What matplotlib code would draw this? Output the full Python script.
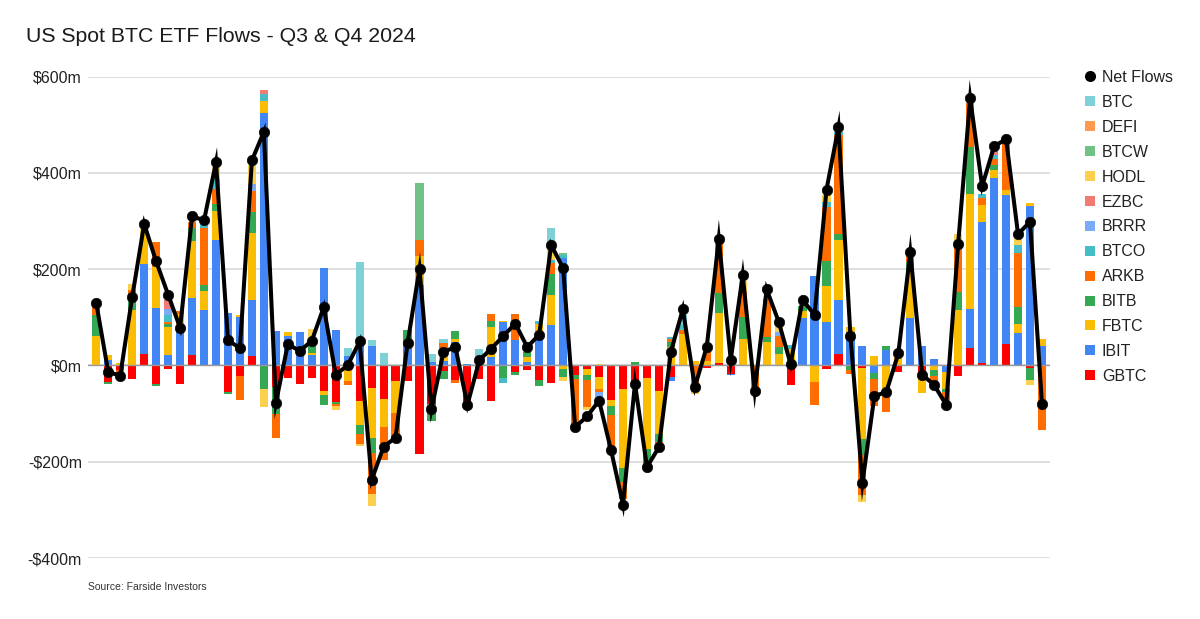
import matplotlib
matplotlib.use("Agg")
import matplotlib.pyplot as plt
from matplotlib.lines import Line2D
import numpy as np

plt.rcParams['font.family'] = ['Liberation Sans', 'DejaVu Sans']

GBTC = [0,-35,-10,-28,24,-39,-8,-38,21,0,
        0,-55,-23,19,0,-45,-26,-39,-26,-54,
        -75,0,-73,-47,-69,-33,-33,-184,-80,-12,
        -30,-82,-28,-73,0,-14,-10,-30,-37,0,
        -19,-8,-24,-71,-50,-38,-26,-54,-24,0,
        0,-6,6,-17,0,0,0,0,-41,0,
        0,-8,23,0,-5,0,0,-14,0,-14,
        0,0,-22,37,5,0,44,0,-5,0]
IBIT = [0,12,0,0,187,120,21,76,119,116,
        260,109,100,116,525,71,62,69,22,202,
        74,19,45,40,0,0,52,166,8,10,
        48,3,0,17,90,53,7,65,83,224,
        0,0,0,0,0,0,0,0,-8,0,
        0,0,0,-3,0,0,0,0,0,98,
        185,90,112,70,40,-16,33,0,98,40,
        14,-14,0,80,293,390,309,68,331,40]
FBTC = [62,10,5,116,63,84,59,31,118,38,
        60,0,5,140,24,0,7,0,4,-8,
        0,-33,-50,-104,-59,-66,0,62,0,26,
        7,0,0,62,3,0,10,20,64,-8,
        0,-11,-24,-14,-164,0,-147,-88,38,66,
        10,10,102,12,55,0,48,24,35,16,
        -35,75,125,10,-147,19,-66,25,99,-43,
        -10,-35,115,239,35,15,12,19,6,14]
BITB = [42,-4,0,19,0,-4,7,0,28,13,
        16,-5,0,43,-48,-55,0,0,15,-20,
        -5,0,-19,-31,0,0,22,0,-36,-17,
        17,0,0,14,-26,-5,10,-12,42,-17,
        -9,-12,0,-17,-28,8,-35,-17,10,0,
        0,0,42,0,45,0,12,14,0,10,
        0,51,12,-10,-35,-12,7,0,17,0,
        -12,-7,37,98,0,12,0,35,-26,0]
ARKB = [20,0,-16,21,0,52,3,7,12,118,
        30,0,-48,45,0,-50,0,0,0,0,
        -5,-7,-21,-86,-68,-60,0,33,0,10,
        -7,0,0,14,0,53,0,0,24,0,
        -100,-55,-8,-67,-35,0,0,-14,7,8,
        -55,17,104,0,55,-52,78,23,0,0,
        -47,113,206,-8,-83,-57,-31,0,14,0,
        -22,-17,100,90,15,12,99,111,0,-135]
BTCO = [0,0,0,0,0,0,14,0,0,8,
        22,0,0,0,15,0,0,0,0,0,
        0,0,0,0,0,0,0,0,0,0,
        0,0,0,0,-10,0,0,8,6,5,
        0,0,0,0,0,0,0,0,5,10,
        0,0,0,0,0,0,0,0,8,0,
        0,10,7,0,0,0,0,0,0,0,
        0,0,0,0,9,8,0,17,0,0]
BRRR = [0,0,0,0,0,0,14,0,0,0,
        0,0,0,14,0,0,0,0,0,0,
        0,0,0,0,0,0,0,0,0,0,
        0,0,0,0,0,0,0,0,0,0,
        0,0,-14,0,0,0,0,0,0,0,
        0,0,0,0,0,0,0,8,0,0,
        0,0,0,0,0,0,0,0,0,0,
        0,0,0,0,0,0,0,0,0,0]
EZBC = [0,0,0,0,0,0,17,0,0,0,
        0,0,0,0,8,0,0,0,0,0,
        0,0,0,0,0,0,0,0,0,0,
        0,0,0,0,0,0,0,0,0,0,
        0,0,0,0,0,0,0,0,0,0,
        0,0,0,0,0,0,0,0,0,0,
        0,0,0,0,0,0,0,0,0,0,
        0,0,0,0,0,9,0,0,0,0]
HODL = [5,0,0,14,10,0,0,0,0,0,
        24,0,0,40,-39,0,0,0,35,0,
        -7,0,-5,-23,0,0,0,0,0,0,
        0,0,0,0,0,0,0,0,40,-8,
        0,-7,3,0,0,0,0,0,0,0,
        -5,0,0,0,21,0,0,10,0,0,
        0,14,0,0,-14,0,0,0,0,0,
        0,0,21,0,0,0,0,14,-10,0]
BTCW = [0,0,0,0,0,0,0,0,0,0,
        0,0,0,0,0,0,0,0,0,0,
        0,0,0,0,0,0,0,118,0,0,
        0,0,0,0,0,0,0,0,0,5,
        0,0,0,0,0,0,0,0,0,0,
        0,0,0,0,0,0,0,0,0,0,
        0,0,0,0,0,0,0,0,0,0,
        0,0,0,0,0,0,0,0,0,0]
DEFI = [0,0,0,0,0,0,0,0,0,0,
        0,0,0,0,0,0,0,0,0,0,
        0,0,0,0,0,0,0,0,0,0,
        0,0,0,0,0,0,0,0,0,0,
        0,0,0,0,0,0,0,0,0,0,
        0,0,0,0,0,0,0,0,0,0,
        0,0,0,0,0,0,0,0,0,0,
        0,0,0,0,0,0,0,0,0,0]
BTC = [0,0,0,0,0,0,0,0,0,0,
       0,0,0,0,0,0,0,0,0,0,
       0,18,170,12,26,0,0,0,16,8,
       0,0,35,0,0,0,0,0,26,0,
       0,0,0,0,0,0,0,0,0,20,
       0,0,0,0,0,0,0,0,0,0,
       0,0,0,0,0,0,0,0,0,0,
       0,0,0,0,0,0,0,0,0,0]
NET = [129,-14,-21,142,294,216,147,78,310,301,
       422,52,36,426,485,-78,44,30,51,121,
       -19,0,50,-238,-169,-150,46,201,-91,28,
       38,-82,11,35,61,87,38,64,250,202,
       -128,-106,-73,-176,-289,-38,-211,-170,28,117,
       -45,39,263,12,187,-53,158,91,3,136,
       105,365,495,61,-244,-64,-55,25,235,-19,
       -41,-82,253,555,372,455,470,273,298,-80]

SERIES = [("GBTC", GBTC, "#ff0000"), ("IBIT", IBIT, "#4285f4"), ("FBTC", FBTC, "#fbbc04"),
          ("BITB", BITB, "#34a853"), ("ARKB", ARKB, "#ff6d01"), ("BTCO", BTCO, "#46bdc6"),
          ("BRRR", BRRR, "#7baaf7"), ("EZBC", EZBC, "#f07b72"), ("HODL", HODL, "#fcd04f"),
          ("BTCW", BTCW, "#71c287"), ("DEFI", DEFI, "#ff994d"), ("BTC", BTC, "#7ed1d7")]
YTICKS = [-400, -200, 0, 200, 400, 600]
YLABELS = ["-$400m", "-$200m", "$0m", "$200m", "$400m", "$600m"]

W, H = 1200, 619
fig = plt.figure(figsize=(W / 100, H / 100), dpi=100, facecolor="white")
ax = fig.add_axes([88 / W, 1 - 558 / H, (1050 - 88) / W, (558 - 76.5) / H])

x = np.arange(len(NET))
pos = np.zeros(len(NET))
neg = np.zeros(len(NET))
for name, vals, col in SERIES:
    v = np.array(vals, dtype=float)
    up = np.clip(v, 0, None)
    dn = np.clip(v, None, 0)
    ax.bar(x, up, 0.68, bottom=pos, color=col, linewidth=0, zorder=2)
    ax.bar(x, dn, 0.68, bottom=neg, color=col, linewidth=0, zorder=2)
    pos += up
    neg += dn

LW_PT = 2.9
ax.axhline(0, color="#9a9a9a", lw=1.0, zorder=3)
ax.plot(x, NET, color="black", lw=LW_PT, marker="o", markersize=7.6, markeredgewidth=0.4,
        zorder=4, solid_joinstyle="round", solid_capstyle="butt")

ax.set_xlim(-0.693, 79.67)
ax.set_ylim(-400, 600)

# Long mitred joins of the net-flow line (Agg clips them), computed from the data.
MITER_LIMIT = 10.0
hw = LW_PT * 100 / 72 / 2
pts = ax.transData.transform(np.column_stack([x, NET]))
inv = ax.transData.inverted()
for k in range(1, len(pts) - 1):
    a = pts[k - 1] - pts[k]
    b = pts[k + 1] - pts[k]
    a /= np.linalg.norm(a)
    b /= np.linalg.norm(b)
    cosang = np.clip(np.dot(a, b), -1, 1)
    ang = np.arccos(cosang)
    if ang < 1e-3 or ang > np.pi / 2:
        continue
    ratio = 1 / np.sin(ang / 2)
    if ratio > MITER_LIMIT:
        continue
    out = -(a + b) / np.linalg.norm(a + b)
    tip = pts[k] + out * hw * ratio
    na = np.array([-a[1], a[0]]) * hw
    nb = np.array([-b[1], b[0]]) * hw
    if np.dot(na, out) < 0:
        na = -na
    if np.dot(nb, out) < 0:
        nb = -nb
    poly = inv.transform(np.array([pts[k] + na, tip, pts[k] + nb, pts[k]]))
    ax.fill(poly[:, 0], poly[:, 1], color="black", linewidth=0, zorder=4)

ax.set_xticks([])
ax.set_yticks(YTICKS, YLABELS)
ax.tick_params(axis="y", length=0, pad=4.4, labelsize=11.5, labelcolor="#222222")
ax.grid(axis="y", color="#dcdcdc", lw=1.3, zorder=0)
ax.set_axisbelow(True)
for s in ax.spines.values():
    s.set_visible(False)

fig.text(26 / W, 1 - 36.5 / H, "US Spot BTC ETF Flows - Q3 & Q4 2024", fontsize=15.35,
         color="#1a1a1a", va="center", ha="left")
fig.text(88 / W, 1 - 587 / H, "Source: Farside Investors", fontsize=7.5,
         color="#333333", va="center", ha="left")

handles = [Line2D([], [], color="black", marker="o", ls="none", markersize=8, markeredgewidth=0)]
labels = ["Net Flows"]
for name, vals, col in reversed(SERIES):
    handles.append(Line2D([], [], color=col, marker="s", ls="none", markersize=7.8, markeredgewidth=0))
    labels.append(name)
fig.legend(handles, labels, loc="upper left", bbox_to_anchor=(1082 / W, 1 - 70 / H),
           bbox_transform=fig.transFigure, frameon=False, fontsize=11.5,
           labelspacing=0.62, handlelength=1.0, handletextpad=0.25, borderpad=0,
           borderaxespad=0, labelcolor="#222222")

fig.savefig("out.png", dpi=100)
